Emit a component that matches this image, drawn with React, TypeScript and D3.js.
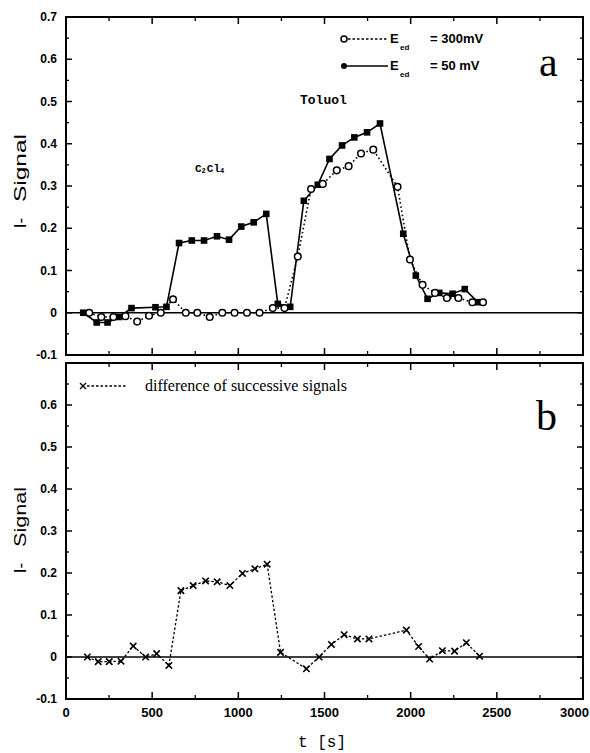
import React from "react";
import * as d3 from "d3";

const W = 590;
const H = 753;

// Panel a: E_ad = 300 mV (open circles)
const t300 = [135, 205, 275, 345, 413, 482, 550, 621, 695, 762, 834, 907, 978, 1050, 1123, 1200, 1268, 1345, 1422, 1490, 1571, 1640, 1712, 1783, 1924, 1996, 2069, 2141, 2210, 2277, 2358, 2420];
const v300 = [0, -0.01, -0.01, -0.008, -0.021, -0.007, 0, 0.032, 0, 0, -0.01, 0, 0, 0, 0, 0.011, 0.011, 0.133, 0.293, 0.305, 0.337, 0.347, 0.377, 0.386, 0.298, 0.126, 0.066, 0.047, 0.035, 0.035, 0.025, 0.025];

// Panel a: E_ad = 50 mV (filled squares)
const t50 = [100, 178, 241, 309, 380, 519, 583, 656, 730, 801, 876, 946, 1017, 1089, 1162, 1229, 1301, 1380, 1461, 1529, 1602, 1673, 1747, 1822, 1957, 2030, 2098, 2166, 2243, 2314, 2390];
const v50 = [0, -0.023, -0.023, -0.01, 0.011, 0.013, 0.014, 0.165, 0.171, 0.171, 0.181, 0.173, 0.204, 0.214, 0.234, 0.021, 0.014, 0.265, 0.303, 0.364, 0.396, 0.415, 0.427, 0.448, 0.187, 0.088, 0.033, 0.047, 0.045, 0.056, 0.025];

// Panel b: difference of successive signals
const tDiff = [124, 187, 251, 319, 390, 462, 526, 597, 667, 738, 810, 877, 951, 1024, 1096, 1167, 1245, 1395, 1469, 1540, 1614, 1691, 1758, 1975, 2046, 2110, 2184, 2255, 2323, 2400];
const vDiff = [0, -0.011, -0.011, -0.01, 0.026, 0, 0.008, -0.02, 0.158, 0.17, 0.181, 0.179, 0.17, 0.199, 0.21, 0.221, 0.011, -0.028, 0, 0.03, 0.053, 0.043, 0.043, 0.064, 0.025, -0.005, 0.015, 0.014, 0.034, 0.002];

// Axis ticks
const xTicks = [0, 500, 1000, 1500, 2000, 2500, 3000];
const xTickLabels = ["0", "500", "1000", "1500", "2000", "2500", "3000"];
const xMinor = [250, 750, 1250, 1750, 2250, 2750];
const yTicks = [-0.1, 0, 0.1, 0.2, 0.3, 0.4, 0.5, 0.6, 0.7];
const yTickLabelsA = ["-0.1", "0", "0.1", "0.2", "0.3", "0.4", "0.5", "0.6", "0.7"];
const yTickLabelsB = ["-0.1", "0", "0.1", "0.2", "0.3", "0.4", "0.5", "0.6", ""];
const yMinor = [-0.05, 0.05, 0.15, 0.25, 0.35, 0.45, 0.55, 0.65];

const x = d3.scaleLinear().domain([0, 3000]).range([66, 583]);
const yA = d3.scaleLinear().domain([-0.1, 0.7]).range([355, 17]);
const yB = d3.scaleLinear().domain([-0.1, 0.7]).range([699, 363]);

const tickFont = "'Liberation Sans', Arial, sans-serif";
const monoFont = "'Liberation Mono', 'DejaVu Sans Mono', monospace";
const serifFont = "'Liberation Serif', 'Times New Roman', serif";

type Pt = [number, number];
const zip = (t: number[], v: number[]): Pt[] => t.map((d, i) => [d, v[i]]);

function Frame({ y, labels, bottomLabels }: { y: d3.ScaleLinear<number, number>; labels: string[]; bottomLabels: boolean }) {
  const [y0, y1] = y.range();
  const x0 = x(0);
  const x1 = x(3000);
  return (
    <g>
      {/* zero line */}
      <line x1={x0} x2={x1} y1={y(0)} y2={y(0)} stroke="#000" strokeWidth={1.6} />
      {/* frame */}
      <rect x={x0} y={y1} width={x1 - x0} height={y0 - y1} fill="none" stroke="#000" strokeWidth={2} />
      {xTicks.map((t) => (
        <g key={"xt" + t}>
          <line x1={x(t)} x2={x(t)} y1={y0} y2={y0 - 7} stroke="#000" strokeWidth={1.5} />
          <line x1={x(t)} x2={x(t)} y1={y1} y2={y1 + 7} stroke="#000" strokeWidth={1.5} />
        </g>
      ))}
      {xMinor.map((t) => (
        <g key={"xm" + t}>
          <line x1={x(t)} x2={x(t)} y1={y0} y2={y0 - 4} stroke="#000" strokeWidth={1.3} />
          <line x1={x(t)} x2={x(t)} y1={y1} y2={y1 + 4} stroke="#000" strokeWidth={1.3} />
        </g>
      ))}
      {yTicks.map((v) => (
        <g key={"yt" + v}>
          <line x1={x0} x2={x0 + 6} y1={y(v)} y2={y(v)} stroke="#000" strokeWidth={1.5} />
          <line x1={x1} x2={x1 - 6} y1={y(v)} y2={y(v)} stroke="#000" strokeWidth={1.5} />
        </g>
      ))}
      {yMinor.map((v) => (
        <g key={"ym" + v}>
          <line x1={x0} x2={x0 + 3} y1={y(v)} y2={y(v)} stroke="#000" strokeWidth={1.3} />
          <line x1={x1} x2={x1 - 3} y1={y(v)} y2={y(v)} stroke="#000" strokeWidth={1.3} />
        </g>
      ))}
      {yTicks.map((v, i) =>
        labels[i] ? (
          <text key={"yl" + v} x={57} y={y(v)} dy="0.35em" textAnchor="end" fontFamily={tickFont} fontWeight="bold" fontSize={12}>
            {labels[i]}
          </text>
        ) : null
      )}
      {bottomLabels &&
        xTicks.map((t, i) => (
          <text
            key={"xl" + t}
            x={i === xTicks.length - 1 ? 589 : x(t)}
            y={717}
            textAnchor={i === xTicks.length - 1 ? "end" : "middle"}
            fontFamily={tickFont}
            fontWeight="bold"
            fontSize={13}
          >
            {xTickLabels[i]}
          </text>
        ))}
    </g>
  );
}

function YTitle({ cx, signalMid, signalLen, iMid }: { cx: number; signalMid: number; signalLen: number; iMid: number }) {
  return (
    <g fontFamily={tickFont} fontSize={17}>
      <text transform={`translate(${cx},${signalMid}) rotate(-90)`} textAnchor="middle" dy="0.35em" textLength={signalLen} lengthAdjust="spacingAndGlyphs">
        Signal
      </text>
      <text transform={`translate(${cx},${iMid}) rotate(-90)`} textAnchor="middle" dy="0.35em">
        I-
      </text>
    </g>
  );
}

export default function App() {
  const lineA = d3.line<Pt>().x((d) => x(d[0])).y((d) => yA(d[1]));
  const lineB = d3.line<Pt>().x((d) => x(d[0])).y((d) => yB(d[1]));
  const d300 = zip(t300, v300);
  const d50 = zip(t50, v50);
  const dDiff = zip(tDiff, vDiff);

  return (
    <svg width={W} height={H} style={{ position: "absolute", left: 0, top: 0, background: "#fff" }}>
      <rect width={W} height={H} fill="#fff" />

      {/* Panel a */}
      <Frame y={yA} labels={yTickLabelsA} bottomLabels={false} />
      <path d={lineA(d300) || ""} fill="none" stroke="#000" strokeWidth={1.6} strokeDasharray="1.6 2.6" />
      <path d={lineA(d50) || ""} fill="none" stroke="#000" strokeWidth={1.6} />
      {d50.map((d, i) => (
        <rect key={"s" + i} x={x(d[0]) - 3.3} y={yA(d[1]) - 3.3} width={6.6} height={6.6} fill="#000" />
      ))}
      {d300.map((d, i) => (
        <circle key={"c" + i} cx={x(d[0])} cy={yA(d[1])} r={3.3} fill="#fff" stroke="#000" strokeWidth={1.5} />
      ))}

      {/* Panel a substance labels */}
      <g fontFamily={monoFont} fontWeight="bold">
        <text x={195} y={172} fontSize={11}>
          C<tspan fontSize={7} dy={1}>2</tspan>
          <tspan fontSize={11} dy={-1} dx={1}>Cl</tspan>
          <tspan fontSize={7} dy={1}>4</tspan>
        </text>
        <text x={300} y={104} fontSize={13}>Toluol</text>
      </g>

      {/* Panel a legend */}
      <g fontFamily={tickFont} fontWeight="bold">
        <line x1={348} x2={388} y1={39} y2={39} stroke="#000" strokeWidth={1.5} strokeDasharray="2.5 2" />
        <circle cx={344} cy={39} r={3} fill="#fff" stroke="#000" strokeWidth={1.5} />
        <text x={390} y={43} fontSize={13}>E</text>
        <text x={400} y={50} fontSize={8}>ed</text>
        <text x={430} y={43} fontSize={13}>= 300mV</text>

        <line x1={347} x2={388} y1={66} y2={66} stroke="#000" strokeWidth={1.6} />
        <circle cx={344} cy={66} r={3} fill="#000" />
        <text x={390} y={70} fontSize={13}>E</text>
        <text x={400} y={77} fontSize={8}>ed</text>
        <text x={430} y={70} fontSize={13}>= 50 mV</text>
      </g>
      <text x={539} y={76} fontFamily={serifFont} fontSize={42}>a</text>

      {/* Panel b */}
      <Frame y={yB} labels={yTickLabelsB} bottomLabels={true} />
      <path d={lineB(dDiff) || ""} fill="none" stroke="#000" strokeWidth={1.3} strokeDasharray="2.5 2" />
      {dDiff.map((d, i) => {
        const cx = x(d[0]);
        const cy = yB(d[1]);
        const s = 3.2;
        return (
          <path key={"x" + i} d={`M${cx - s},${cy - s}L${cx + s},${cy + s}M${cx - s},${cy + s}L${cx + s},${cy - s}`} stroke="#000" strokeWidth={1.6} />
        );
      })}

      {/* Panel b legend */}
      <line x1={87} x2={127} y1={386} y2={386} stroke="#000" strokeWidth={1.3} strokeDasharray="2.5 2" />
      <path d="M80,383L86,389M80,389L86,383" stroke="#000" strokeWidth={1.4} />
      <text x={145} y={391} fontFamily={serifFont} fontSize={16}>
        difference of successive signals
      </text>
      <text x={536} y={430} fontFamily={serifFont} fontSize={42}>b</text>

      {/* Axis titles */}
      <YTitle cx={20} signalMid={168} signalLen={68} iMid={223} />
      <YTitle cx={20} signalMid={517} signalLen={60} iMid={568} />
      <text x={322} y={747} textAnchor="middle" fontFamily={monoFont} fontSize={16}>
        t [s]
      </text>
    </svg>
  );
}
